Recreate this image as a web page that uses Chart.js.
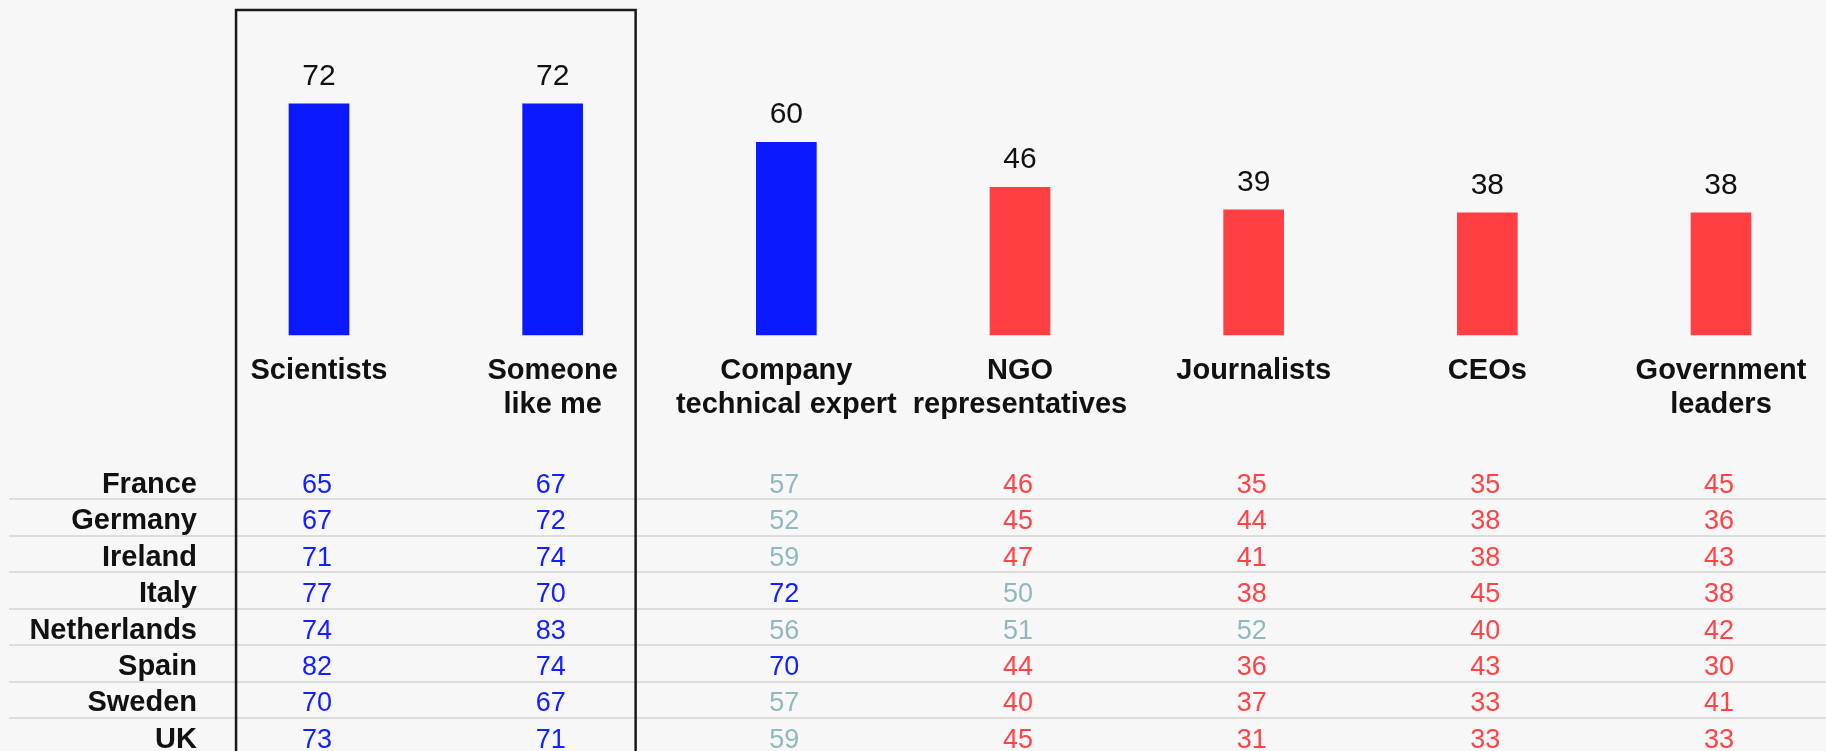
<!DOCTYPE html>
<html><head><meta charset="utf-8">
<script src="https://cdn.jsdelivr.net/npm/chart.js@4.4.1/dist/chart.umd.min.js"></script>
<style>html,body{margin:0;padding:0;background:#f7f7f7;overflow:hidden}canvas{display:block}</style>
</head><body>
<canvas id="c" width="1826" height="751" style="width:1826px;height:751px"></canvas>
<script>
// ---- data ----
const categories = [['Scientists'], ['Someone', 'like me'], ['Company', 'technical expert'], ['NGO', 'representatives'], ['Journalists'], ['CEOs'], ['Government', 'leaders']];
const overallTrust = [72, 72, 60, 46, 39, 38, 38];
const countries = ['France', 'Germany', 'Ireland', 'Italy', 'Netherlands', 'Spain', 'Sweden', 'UK'];
const france      = [65, 67, 57, 46, 35, 35, 45];
const germany     = [67, 72, 52, 45, 44, 38, 36];
const ireland     = [71, 74, 59, 47, 41, 38, 43];
const italy       = [77, 70, 72, 50, 38, 45, 38];
const netherlands = [74, 83, 56, 51, 52, 40, 42];
const spain       = [82, 74, 70, 44, 36, 43, 30];
const sweden      = [70, 67, 57, 40, 37, 33, 41];
const uk          = [73, 71, 59, 45, 31, 33, 33];
const countryValues = [france, germany, ireland, italy, netherlands, spain, sweden, uk];
const trustThresholds = [60, 50]; // >=60 trusted, 50-59 neutral, <50 distrusted
const boxedCategories = [0, 1];

// ---- styles ----
const BG = '#f7f7f7';
const BAR_BLUE = '#0a19ff', BAR_RED = '#ff3f42';
const TXT_BLUE = '#1420ff', TXT_GRAY = '#90b9bf', TXT_RED = '#ff4346';
const FONT = '"Liberation Sans", Arial, Helvetica, sans-serif';

function barColor(v) { return v >= trustThresholds[0] ? BAR_BLUE : BAR_RED; }
function textColor(v) { return v >= trustThresholds[0] ? TXT_BLUE : (v >= trustThresholds[1] ? TXT_GRAY : TXT_RED); }

const tablePlugin = {
  id: 'tablePlugin',
  beforeDraw(chart) {
    const ctx = chart.ctx;
    ctx.save();
    ctx.fillStyle = BG;
    ctx.fillRect(0, 0, chart.width, chart.height);
    ctx.restore();
  },
  afterDatasetsDraw(chart) {
    const ctx = chart.ctx;
    const xs = chart.scales.x, ys = chart.scales.y, rs = chart.scales.rows;
    const meta = chart.getDatasetMeta(0);
    const zero = ys.getPixelForValue(0);
    ctx.save();

    // value labels above bars
    ctx.fillStyle = '#111';
    ctx.textAlign = 'center';
    ctx.textBaseline = 'alphabetic';
    ctx.font = '30px ' + FONT;
    meta.data.forEach((bar, i) => {
      ctx.fillText(String(overallTrust[i]), bar.x, bar.y - 19);
    });

    // category labels
    ctx.font = 'bold 29px ' + FONT;
    categories.forEach((lines, i) => {
      const cx = xs.getPixelForValue(i);
      lines.forEach((t, k) => ctx.fillText(t, cx, zero + 44 + k * 34));
    });

    // row separators
    ctx.strokeStyle = '#dcdcdc';
    ctx.lineWidth = 2;
    countries.forEach((c, r) => {
      const ly = Math.round(rs.getPixelForValue(r + 0.45));
      ctx.beginPath();
      ctx.moveTo(9, ly);
      ctx.lineTo(chart.width, ly);
      ctx.stroke();
    });

    // country names and values
    countries.forEach((c, r) => {
      const base = rs.getPixelForValue(r) + 9.7;
      ctx.textAlign = 'right';
      ctx.fillStyle = '#111';
      ctx.font = 'bold 29px ' + FONT;
      ctx.fillText(c, 197, base);
      ctx.textAlign = 'center';
      ctx.font = '27px ' + FONT;
      countryValues[r].forEach((v, i) => {
        ctx.fillStyle = textColor(v);
        ctx.fillText(String(v), xs.getPixelForValue(i) - 2, base);
      });
    });

    // highlight box around first two categories
    const step = xs.getPixelForValue(1) - xs.getPixelForValue(0);
    const left = xs.getPixelForValue(boxedCategories[0]) - 0.355 * step;
    const right = xs.getPixelForValue(boxedCategories[boxedCategories.length - 1]) + 0.355 * step;
    ctx.strokeStyle = '#1a1a1a';
    ctx.lineWidth = 2.5;
    ctx.strokeRect(left, 10, right - left, chart.height + 20);
    ctx.restore();
  }
};

new Chart(document.getElementById('c'), {
  type: 'bar',
  data: {
    labels: categories.map(l => l.join(' ')),
    datasets: [{
      data: overallTrust,
      backgroundColor: overallTrust.map(barColor),
      borderWidth: 0,
      barThickness: 60,
      clip: false
    }]
  },
  options: {
    responsive: false,
    animation: false,
    devicePixelRatio: 1,
    layout: { padding: { left: 319, right: 105, top: 14, bottom: 0 } },
    plugins: { legend: { display: false }, tooltip: { enabled: false } },
    scales: {
      x: { display: false, offset: false },
      y: { display: false, min: -129.7, max: 100 },
      rows: { type: 'linear', axis: 'y', display: false, reverse: true, min: -12.867, max: 7.352 }
    }
  },
  plugins: [tablePlugin]
});
</script>
</body></html>
